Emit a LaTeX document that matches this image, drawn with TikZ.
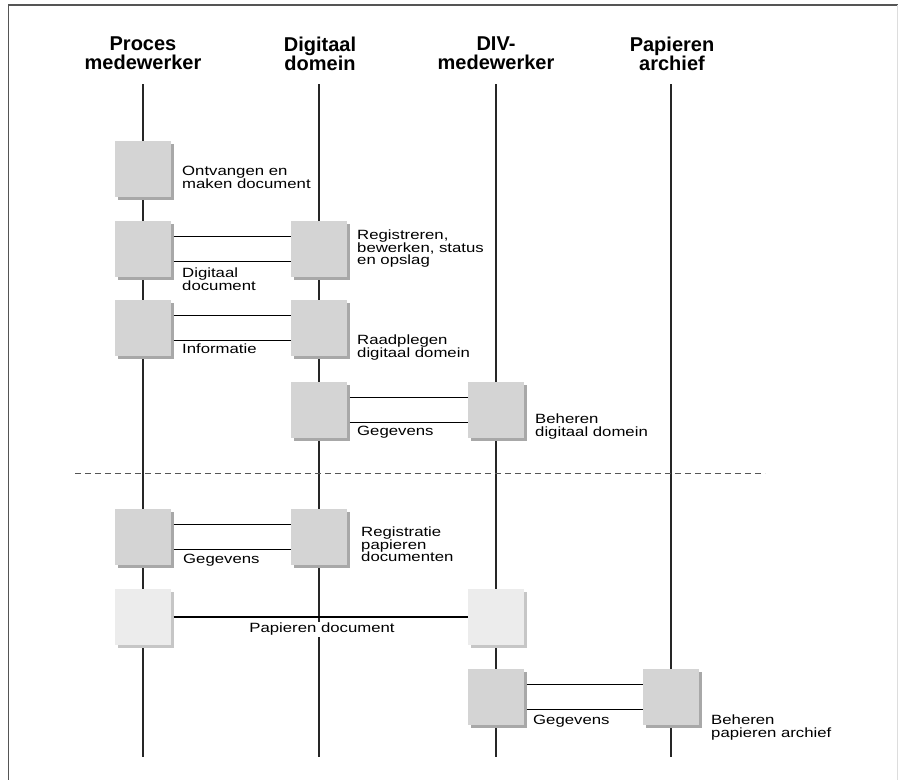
\documentclass[tikz,border=0pt]{standalone}
\usepackage{fontspec}
\setmainfont{Liberation Sans}
\newfontfamily\widefam[FakeStretch=1.25]{Liberation Sans}
\usetikzlibrary{positioning,calc,shadows,backgrounds}
\definecolor{bgray}{HTML}{D4D4D4}
\definecolor{blight}{HTML}{ECECEC}
\definecolor{bshadow}{HTML}{A8A8A8}
\definecolor{bshadowl}{HTML}{C6C6C6}
\definecolor{fgray}{HTML}{555555}
\definecolor{fline}{HTML}{DDDDDD}
\newcommand\headfont{\fontsize{20}{18.5}\selectfont\bfseries\lineskiplimit=-50pt}
\newcommand\lblfont{\widefam\fontsize{13.4}{12.5}\selectfont\lineskiplimit=-50pt}
\tikzset{
  % grey activity block, hard shadow bottom right
  act/.style  = {rectangle, fill=bgray, minimum size=56pt, inner sep=0pt,
                 drop shadow={shadow xshift=2.5pt, shadow yshift=-2.5pt, fill=bshadow, opacity=1}},
  actl/.style = {rectangle, fill=blight, minimum size=56pt, inner sep=0pt,
                 drop shadow={shadow xshift=2.5pt, shadow yshift=-2.5pt, fill=bshadowl, opacity=1}},
  head/.style = {font=\headfont, align=center, anchor=north, inner sep=0pt},
  lbl/.style  = {font=\lblfont, align=left, anchor=north west, inner sep=0pt},
  lane/.style = {line width=1.2pt, black!85},
  link/.style = {line width=1.2pt, black},
  sep/.style  = {line width=1pt, fgray, dash pattern=on 6pt off 4pt},
}
\begin{document}
\begin{tikzpicture}[x=1pt,y=-1pt]
\useasboundingbox (0,0) rectangle (899,780);
% frame
\draw[fgray, line width=1.3pt] (8,5) -- (898,5);
\draw[fgray, line width=1.3pt] (8.5,5) -- (8.5,780);
\draw[fline, line width=1pt] (897.5,5) -- (897.5,780);
% headings
\node[head] (hp) at (143,37) {Proces\\medewerker};
\node[head] (hd) at (320,37) {Digitaal\\domein};
\node[head] (hv) at (496,37) {DIV-\\medewerker};
\node[head] (ha) at (672,37) {Papieren\\archief};
\foreach \n/\x in {p/143, d/319, v/496, a/671} {
  \coordinate (\n top) at (\x,84);
  \coordinate (\n bot) at (\x,757);
}
% blocks
\node[act]  (p1) at (143,169) {};
\node[act]  (p2) at (143,249) {};
\node[act]  (d2) at (319,249) {};
\node[act]  (p3) at (143,328) {};
\node[act]  (d3) at (319,328) {};
\node[act]  (d4) at (319,410) {};
\node[act]  (v4) at (496,410) {};
\node[act]  (p5) at (143,537) {};
\node[act]  (d5) at (319,537) {};
\node[actl] (p6) at (143,617) {};
\node[actl] (v6) at (496,617) {};
\node[act]  (v7) at (496,697) {};
\node[act]  (a7) at (671,697) {};
% lanes
\begin{scope}[on background layer]
  \foreach \n in {p,d,v,a}
    \draw[lane] (\n top) -- (\n bot);
\end{scope}
% links
\foreach \a/\b in {p2/d2, p3/d3, d4/v4, p5/d5, v7/a7} {
  \draw[link] ([xshift=2.5pt,yshift=12.5pt]\a.east) -- ([yshift=12.5pt]\b.west);
  \draw[link] ([xshift=2.5pt,yshift=-12.5pt]\a.east) -- ([yshift=-12.5pt]\b.west);
}
\draw[link] ([xshift=2.5pt]p6.east) -- (v6.west);
% separator
\coordinate (sepl) at (75,473);
\coordinate (sepr) at (765,473);
\draw[sep] (sepl) -- (sepr);
% labels
\node[lbl] (l1)  at (182,166) {Ontvangen en\\maken document};
\node[lbl] (l2)  at (182,268) {Digitaal\\document};
\node[lbl] (l2r) at (357,230) {Registreren,\\bewerken, status\\en opslag};
\node[lbl] (l3)  at (182,344) {Informatie};
\node[lbl] (l3r) at (357,335) {Raadplegen\\digitaal domein};
\node[lbl] (l4)  at (357,426) {Gegevens};
\node[lbl] (l4r) at (535,414) {Beheren\\digitaal domein};
\node[lbl] (l5)  at (183,554) {Gegevens};
\node[lbl] (l5r) at (361,527) {Registratie\\papieren\\documenten};
\node[font=\lblfont, fill=white, inner sep=1pt, anchor=north] (l6) at (322,622) {Papieren document};
\node[lbl] (l7)  at (533,715) {Gegevens};
\node[lbl] (l7r) at (711,715) {Beheren\\papieren archief};
\end{tikzpicture}
\end{document}
